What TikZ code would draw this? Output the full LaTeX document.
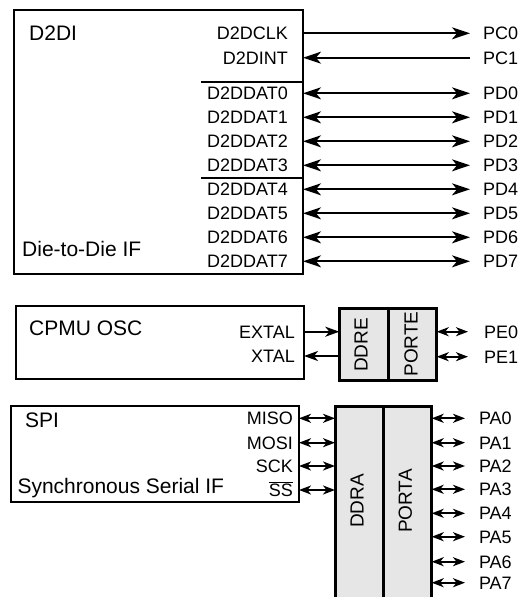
\documentclass[tikz,border=0pt]{standalone}
\usepackage{fontspec}
\setmainfont{Liberation Sans}
\usetikzlibrary{arrows.meta,positioning}
\definecolor{regfill}{RGB}{230,230,230}
\newcommand\sigfont{\fontsize{18}{18}\selectfont}
\newcommand\blkfont{\fontsize{21}{21}\selectfont}
\newcommand\regfont{\fontsize{19}{19}\selectfont}

\begin{document}
\begin{tikzpicture}[x=1pt,y=-1pt,
  blk/.style={draw,line width=2pt,inner sep=0pt,outer sep=0pt},
  reg/.style={draw,line width=3pt,fill=regfill,inner sep=0pt,outer sep=0pt},
  ttl/.style={font=\blkfont,inner sep=0pt,anchor=west,text height=15pt,text depth=0pt},
  sig/.style={font=\sigfont,inner sep=0pt,anchor=east,text height=12.9pt,text depth=0pt},
  padlbl/.style={font=\sigfont,inner sep=0pt,anchor=west,text height=12.9pt,
    text depth=0pt,outer xsep=#1},
  padlbl/.default=13pt,
  regtxt/.style={font=\regfont,inner sep=0pt,rotate=90,text height=13.6pt,text depth=0pt},
  sepline/.style={line width=2pt},
  wire/.style={line width=1.8pt},
  bigtip/.style={-{Stealth[length=18pt,width=12pt,inset=5pt]}},
  bigtipl/.style={{Stealth[length=18pt,width=12pt,inset=5pt]}-},
  bigboth/.style={{Stealth[length=18pt,width=12pt,inset=5pt]}-{Stealth[length=18pt,width=12pt,inset=5pt]}},
  midtip/.style={-{Stealth[length=14pt,width=10pt,inset=4pt]}},
  midtipl/.style={{Stealth[length=14pt,width=10pt,inset=4pt]}-},
  smallboth/.style={{Stealth[length=12pt,width=9pt,inset=3.5pt]}-{Stealth[length=12pt,width=9pt,inset=3.5pt]}}]
\useasboundingbox (0,0) rectangle (521,597);
\clip (0,0) rectangle (521,597);
% die-to-die interface
\node[blk,minimum width=288.7pt,minimum height=264pt] (d2di) at (158.65,142) {};
\node[ttl] (d2dname) at (29,33) {D2DI};
\node[ttl] (d2dif) at (22,249) {Die-to-Die IF};
\node[sig] (clk) at (288,33.3) {D2DCLK};
\node[sig] (int) at (288,57.7) {D2DINT};
\node[padlbl] (pc0) at (470,33.3) {PC0};
\node[padlbl] (pc1) at (470,57.7) {PC1};
\draw[wire,bigtip] (d2di.east |- pc0) -- (pc0);
\draw[wire,bigtipl] (d2di.east |- pc1) -- (pc1);
\draw[sepline] (201,81.7) -- (d2di.east |- 0,81.7);
\draw[sepline] (201,177.7) -- (d2di.east |- 0,177.7);
\foreach \k in {0,...,7}{
  \pgfmathsetmacro{\yy}{93.3+24*\k}
  \node[sig] (dat\k) at (288,\yy) {D2DDAT\k};
  \node[padlbl] (pd\k) at (470,\yy) {PD\k};
  \draw[wire,bigboth] (d2di.east |- pd\k) -- (pd\k);
}
% oscillator and port E
\node[blk,minimum width=288.3pt,minimum height=73.6pt] (cpmu) at (159.85,342.5) {};
\node[ttl] (cpmuname) at (29,328) {CPMU OSC};
\node[sig] (extal) at (295,331.7) {EXTAL};
\node[sig] (xtal) at (295,356) {XTAL};
\node[reg,minimum width=49pt,minimum height=71.7pt] (ddre) at (363.8,344.15) {};
\node[reg,minimum width=48.4pt,minimum height=71.7pt] (porte) at (412.5,344.15) {};
\node[regtxt] (ddretxt) at (360.8,345) {DDRE};
\node[regtxt] (portetxt) at (410.8,344) {PORTE};
\draw[wire,midtip] (cpmu.east |- extal) -- (ddre.west |- extal);
\draw[wire,midtipl] (cpmu.east |- xtal) -- (ddre.west |- xtal);
\node[padlbl=16pt] (pe0) at (468,331.7) {PE0};
\node[padlbl=16pt] (pe1) at (468,356.7) {PE1};
\draw[wire,smallboth] (porte.east |- pe0) -- (pe0);
\draw[wire,smallboth] (porte.east |- pe1) -- (pe1);
% serial interface and port A
\node[blk,minimum width=288pt,minimum height=95.7pt] (spi) at (155,453.85) {};
\node[ttl] (spiname) at (25,420) {SPI};
\node[ttl] (spiif) at (17.3,486) {Synchronous Serial IF};
\node[reg,minimum width=48.3pt,minimum height=203.3pt] (ddra) at (359.15,508.35) {};
\node[reg,minimum width=48.4pt,minimum height=203.3pt] (porta) at (407.5,508.35) {};
\node[regtxt] (ddratxt) at (356.7,501) {DDRA};
\node[regtxt] (portatxt) at (405,501) {PORTA};
\foreach \nm/\yy [count=\i] in {MISO/418.3,MOSI/442.7,SCK/466,{\(\overline{\mbox{SS}}\)}/490}{
  \node[sig] (s\i) at (293,\yy) {\nm};
  \draw[wire,smallboth] (spi.east |- s\i) -- (ddra.west |- s\i);
}
\foreach \yy [count=\i from 0] in {418.3,442.7,466,489.3,513.3,536.7,561.7,582.7}{
  \node[padlbl=14pt] (pa\i) at (465,\yy) {PA\i};
  \draw[wire,smallboth] (porta.east |- pa\i) -- (pa\i);
}
\end{tikzpicture}
\end{document}
